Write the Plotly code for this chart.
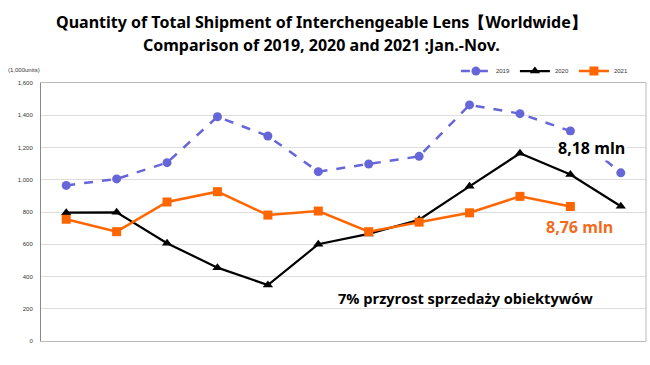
import plotly.graph_objects as go

months = ["Jan", "Feb", "Mar", "Apr", "May", "Jun", "Jul", "Aug", "Sep", "Oct", "Nov", "Dec"]
y2019 = [965, 1005, 1106, 1391, 1271, 1050, 1098, 1145, 1464, 1410, 1302, 1043]
y2020 = [796, 798, 606, 455, 347, 600, 664, 752, 959, 1164, 1032, 836]
y2021 = [755, 678, 862, 926, 781, 806, 678, 737, 795, 897, 834]
yticks = [0, 200, 400, 600, 800, 1000, 1200, 1400, 1600]
ytick_labels = ["0", "200", "400", "600", "800", "1,000", "1,200", "1,400", "1,600"]
title_lines = ["Quantity of Total Shipment of Interchengeable Lens【Worldwide】",
               "Comparison of 2019, 2020 and 2021 :Jan.-Nov."]

fig = go.Figure()
fig.add_trace(go.Scatter(x=months, y=y2019, name="2019", mode="lines+markers",
                         line=dict(color="#6666D9", width=2.5, dash="dash"),
                         marker=dict(symbol="circle", size=9, color="#6666D9")))
fig.add_trace(go.Scatter(x=months, y=y2020, name="2020", mode="lines+markers",
                         line=dict(color="#000000", width=2.2),
                         marker=dict(symbol="triangle-up", size=9, color="#000000")))
fig.add_trace(go.Scatter(x=months[:len(y2021)], y=y2021, name="2021", mode="lines+markers",
                         line=dict(color="#FF6600", width=2.5),
                         marker=dict(symbol="square", size=9, color="#FF6600")))

title_font = dict(family="Noto Sans", size=16, color="black", weight="bold")
fig.update_layout(
    width=650, height=365,
    margin=dict(l=41, r=4, t=83, b=24),
    paper_bgcolor="white", plot_bgcolor="white",
    showlegend=True,
    legend=dict(orientation="h", x=0.98, xanchor="right", y=0.99, yanchor="bottom",
                font=dict(size=6, family="Arial", color="#333"),
                bgcolor="rgba(0,0,0,0)", itemwidth=30, tracegroupgap=0),
    xaxis=dict(showticklabels=False, showgrid=False, ticks="",
               showline=True, linecolor="#BBBBBB", linewidth=1, mirror=True,
               range=[-0.5, 11.5], fixedrange=True),
    yaxis=dict(range=[0, 1600], tickvals=yticks, ticktext=ytick_labels,
               tickfont=dict(size=6, family="Arial", color="#333"),
               showgrid=True, gridcolor="#DDDDDD", gridwidth=1,
               showline=True, linecolor="#888888", linewidth=1, mirror=False,
               zeroline=False, ticks="", ticklabelstandoff=6),
    annotations=[
        dict(text=title_lines[0], xref="paper", yref="paper", x=0.463, y=1.2364,
             xanchor="center", yanchor="middle", showarrow=False, font=title_font),
        dict(text=title_lines[1], xref="paper", yref="paper", x=0.463, y=1.1473,
             xanchor="center", yanchor="middle", showarrow=False, font=title_font),
        dict(text="(1,000units)", xref="paper", yref="paper", x=-0.058, y=1.03,
             xanchor="left", yanchor="bottom", showarrow=False,
             font=dict(size=6, family="Arial", color="#333")),
        dict(text="<b>8,18 mln</b>", xref="paper", yref="paper", x=0.968, y=0.75,
             xanchor="right", yanchor="middle", showarrow=False, bgcolor="white",
             font=dict(size=16, family="Open Sans", color="black")),
        dict(text="<b>8,76 mln</b>", xref="paper", yref="paper", x=0.948, y=0.44,
             xanchor="right", yanchor="middle", showarrow=False,
             font=dict(size=16, family="Open Sans", color="#F26A1B")),
        dict(text="<b>7% przyrost sprzedaży obiektywów</b>", xref="paper", yref="paper",
             x=0.915, y=0.165, xanchor="right", yanchor="middle", showarrow=False,
             font=dict(size=14.6, family="Open Sans", color="black")),
    ],
)
fig.add_shape(type="line", xref="paper", yref="paper", x0=1, x1=1, y0=0, y1=1,
              line=dict(color="#BBBBBB", width=1))
fig.write_html("out.html", config={"displayModeBar": False},
               post_script="document.body.style.margin='0';")
